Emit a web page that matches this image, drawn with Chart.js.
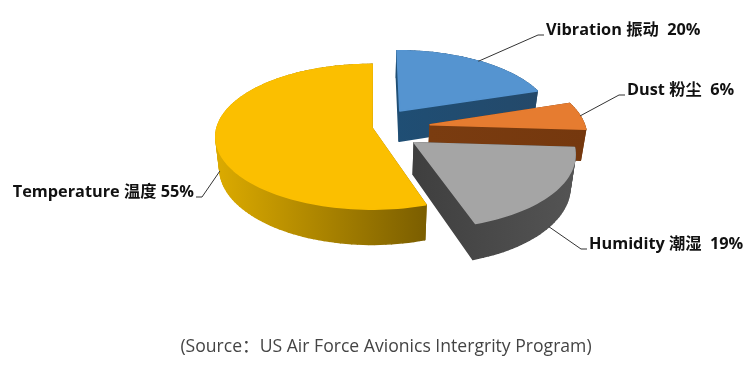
<!DOCTYPE html>
<html>
<head>
<meta charset="utf-8">
<title>Failure causes</title>
<script src="https://cdn.jsdelivr.net/npm/chart.js@4"></script>
<style>
  html, body { margin: 0; background: #fff; }
  #wrap { position: relative; width: 753px; height: 391px; }
</style>
</head>
<body>
<div id="wrap"><canvas id="causesChart"></canvas></div>
<script>
// Dados do gráfico
const categories = ['Vibration 振动 ', 'Dust 粉尘 ', 'Humidity 潮湿 ', 'Temperature 温度'];
const shares = [20, 6, 19, 55];
const sourceNote = '(Source：US Air Force Avionics Intergrity Program)';

// Estilos por fatia
const topColors = ['#5594d0', '#e67c30', '#a5a5a5', '#fbbf00'];
const sideColors = [
  ['#1f4e74', '#24496a'],
  ['#7a3c10', '#75380e'],
  ['#3f3f3f', '#545454'],
  ['#dcab00', '#7b5e00']
];
const explode = [47, 58, 51, 1];
const labelSpots = [
  { x: 546, y: 35 },
  { x: 627, y: 95 },
  { x: 589, y: 249 },
  { x: 194, y: 197, right: true }
];

// "Câmera" do pseudo 3D
const squash = 0.46;
const perspective = 0.12;
const depth = 31;
const bottomScale = 0.975;
const labelFont = 'bold 16.3px "Open Sans", "Noto Sans CJK SC", sans-serif';

// Projeta um ponto da fatia (ângulo + raio relativo) para a tela
function project(arc, angle, r, bottom) {
  const R = arc.outerRadius;
  const mid = (arc.startAngle + arc.endAngle) / 2;
  const off = arc.options.offset / R;
  const u = r * Math.cos(angle) + off * Math.cos(mid);
  const v = r * Math.sin(angle) + off * Math.sin(mid);
  const s = 1 / (1 - perspective * v);
  return {
    x: arc.x + R * u * s * (bottom ? bottomScale : 1),
    y: arc.y + R * squash * v * s + (bottom ? depth * s : 0)
  };
}

function outline(arc, bottom) {
  const pts = [project(arc, arc.startAngle, 0, bottom)];
  const steps = Math.max(8, Math.round((arc.endAngle - arc.startAngle) * 30));
  for (let i = 0; i <= steps; i++) {
    const a = arc.startAngle + (arc.endAngle - arc.startAngle) * i / steps;
    pts.push(project(arc, a, 1, bottom));
  }
  pts.push(pts[0]);
  return pts;
}

function drawSlice(ctx, arc, index) {
  const top = outline(arc, false);
  const low = outline(arc, true);
  const xs = top.map(p => p.x);
  const grad = ctx.createLinearGradient(Math.min(...xs), 0, Math.max(...xs), 0);
  grad.addColorStop(0, sideColors[index][0]);
  grad.addColorStop(1, sideColors[index][1]);

  // Laterais (traço grosso para esconder as emendas)
  ctx.fillStyle = grad;
  ctx.strokeStyle = grad;
  ctx.lineWidth = 1.6;
  ctx.lineJoin = 'round';
  for (let i = 0; i < top.length - 1; i++) {
    ctx.beginPath();
    ctx.moveTo(top[i].x, top[i].y);
    ctx.lineTo(top[i + 1].x, top[i + 1].y);
    ctx.lineTo(low[i + 1].x, low[i + 1].y);
    ctx.lineTo(low[i].x, low[i].y);
    ctx.closePath();
    ctx.fill();
    ctx.stroke();
  }

  // Topo (com traço da mesma cor, cobre a borda das laterais)
  ctx.beginPath();
  top.forEach((p, i) => (i ? ctx.lineTo(p.x, p.y) : ctx.moveTo(p.x, p.y)));
  ctx.closePath();
  ctx.fillStyle = arc.options.backgroundColor;
  ctx.strokeStyle = arc.options.backgroundColor;
  ctx.fill();
  ctx.stroke();
}

const pie3d = {
  id: 'pie3d',
  beforeDatasetDraw(chart, args) {
    const ctx = chart.ctx;
    const arcs = args.meta.data.map((arc, index) => ({ arc, index }));
    // De trás para frente
    arcs.sort((a, b) => Math.sin((a.arc.startAngle + a.arc.endAngle) / 2) - Math.sin((b.arc.startAngle + b.arc.endAngle) / 2));
    ctx.save();
    arcs.forEach(item => drawSlice(ctx, item.arc, item.index));
    ctx.restore();
    return false;
  },
  afterDraw(chart) {
    const ctx = chart.ctx;
    ctx.save();
    chart.getDatasetMeta(0).data.forEach((arc, i) => {
      const mid = (arc.startAngle + arc.endAngle) / 2;
      const spot = labelSpots[i];
      const start = project(arc, mid, 1, Math.sin(mid) > 0);
      const dir = spot.right ? 1 : -1;

      // Linha de chamada
      ctx.beginPath();
      ctx.moveTo(start.x, start.y);
      ctx.lineTo(spot.x + dir * 8, spot.y);
      ctx.lineTo(spot.x + dir * 2, spot.y);
      ctx.strokeStyle = '#333';
      ctx.lineWidth = 1;
      ctx.stroke();

      ctx.font = labelFont;
      ctx.fillStyle = '#111';
      ctx.textBaseline = 'alphabetic';
      ctx.textAlign = spot.right ? 'right' : 'left';
      ctx.fillText(categories[i] + ' ' + shares[i] + '%', spot.x, spot.y);
    });

    ctx.font = '17.6px "Open Sans", "Noto Sans CJK SC", sans-serif';
    ctx.fillStyle = '#444';
    ctx.textAlign = 'center';
    ctx.fillText(sourceNote, 386, 352);
    ctx.restore();
  }
};

new Chart(document.getElementById('causesChart').getContext('2d'), {
  type: 'pie',
  data: {
    labels: categories,
    datasets: [{
      data: shares,
      backgroundColor: topColors,
      borderWidth: 0,
      offset: explode
    }]
  },
  options: {
    responsive: true,
    maintainAspectRatio: false,
    animation: false,
    radius: 155,
    layout: { padding: { right: 7, bottom: 135 } },
    plugins: {
      legend: { display: false },
      tooltip: { enabled: false }
    }
  },
  plugins: [pie3d]
});
</script>
</body>
</html>
